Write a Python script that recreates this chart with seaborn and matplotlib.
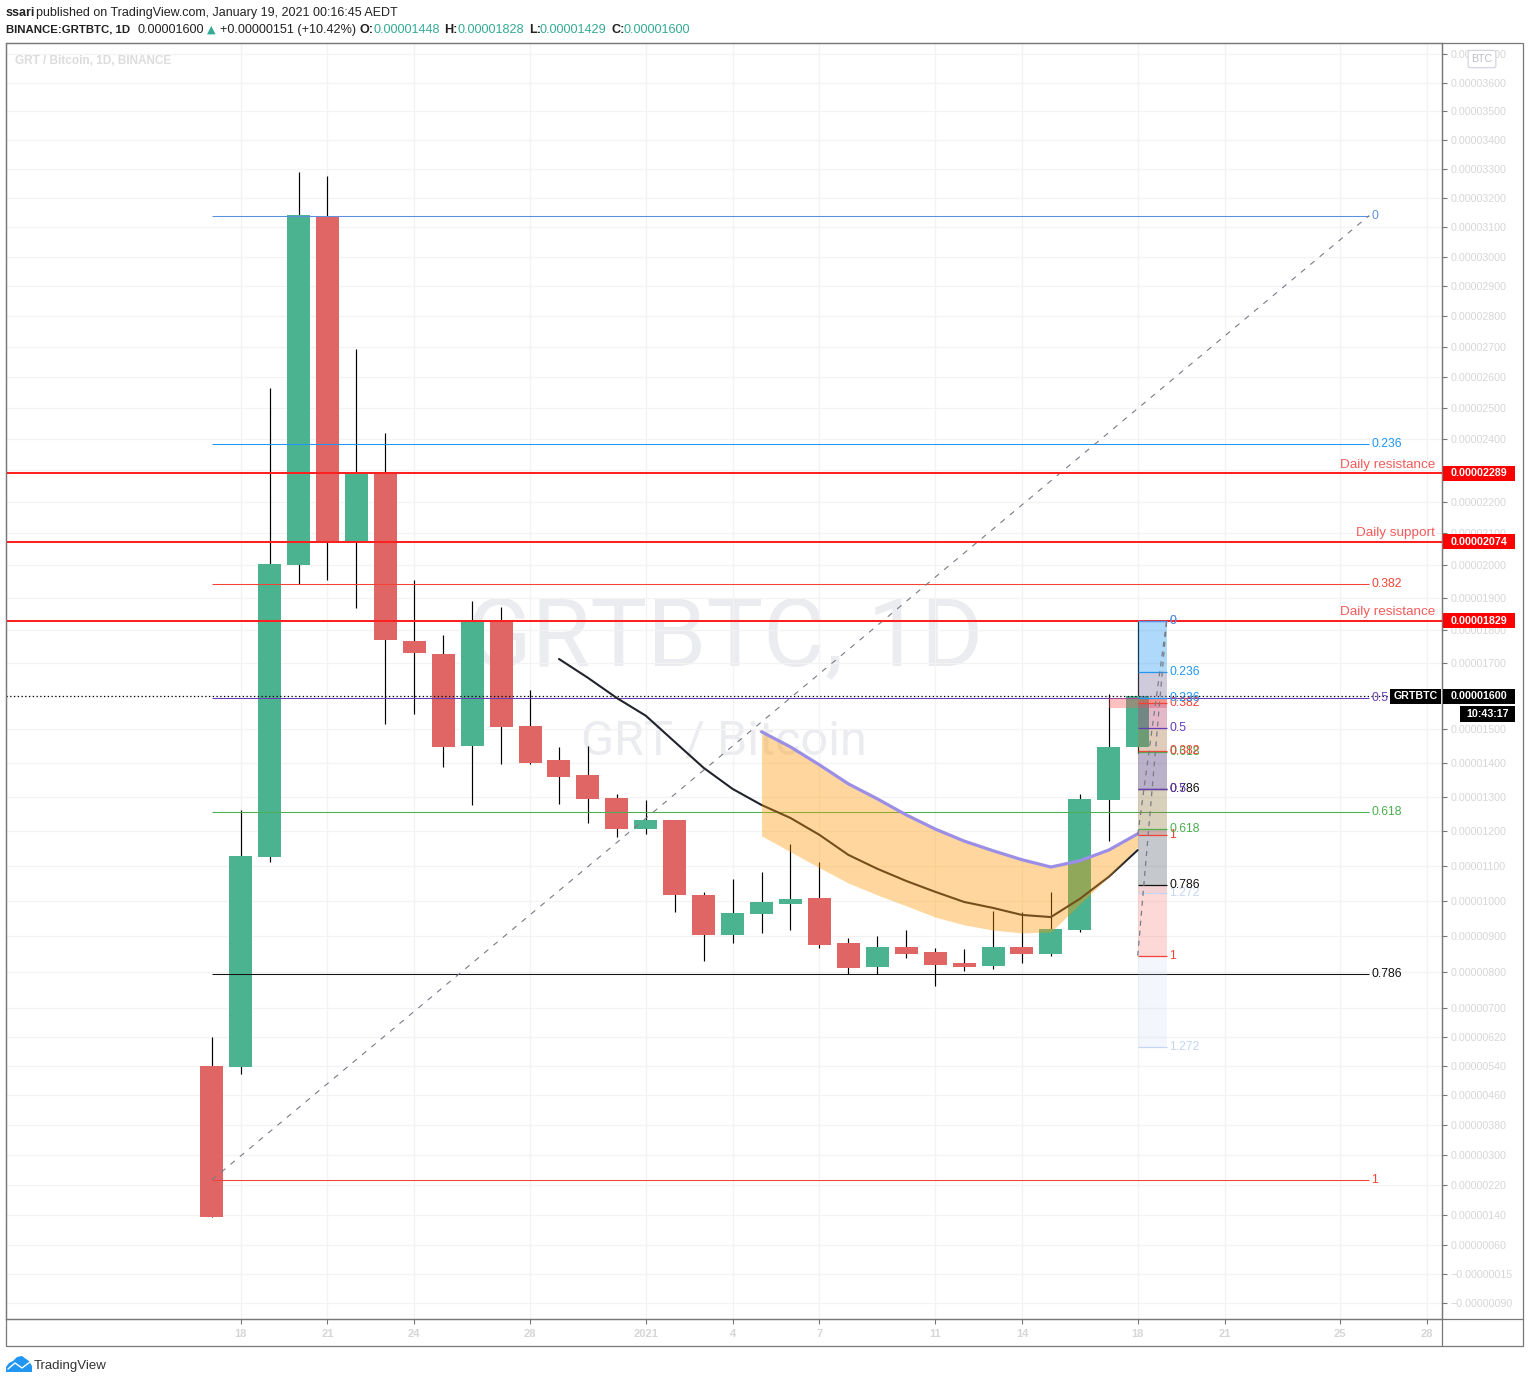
import matplotlib
matplotlib.use('Agg')
import matplotlib.pyplot as plt
from matplotlib.patches import Rectangle, Polygon, FancyBboxPatch
from matplotlib.lines import Line2D
import numpy as np
import pandas as pd
import seaborn as sns

# prices are in units of 1e-8 BTC, days counted from Dec 17
opens = [539, 537, 1126, 2001, 3134, 2074, 2289, 1767, 1727, 1451, 1829, 1511, 1410, 1365, 1298, 1207, 1233,
         1017, 903, 963, 991, 1009, 881, 812, 870, 856, 824, 815, 870, 851, 917, 1292, 1448]
highs = [619, 1263, 2565, 3289, 3275, 2693, 2419, 1955, 1785, 1890, 1871, 1619, 1448, 1451, 1309, 1292, 1233,
         1026, 1063, 1083, 1164, 1112, 895, 900, 917, 867, 864, 971, 969, 1026, 1309, 1607, 1828]
lows = [135, 518, 1112, 1942, 1955, 1868, 1517, 1546, 1389, 1277, 1398, 1396, 1280, 1225, 1184, 1193, 969,
        829, 881, 909, 917, 867, 793, 793, 837, 760, 801, 807, 824, 845, 912, 1172, 1429]
closes = [135, 1129, 2004, 3141, 2071, 2288, 1770, 1730, 1448, 1829, 1508, 1401, 1360, 1295, 1207, 1233, 1017,
          903, 966, 997, 1006, 875, 810, 870, 851, 818, 812, 870, 851, 920, 1295, 1448, 1600]

ma_days = list(range(12, 33))
ma_values = [1712, 1655, 1594, 1541, 1463, 1386, 1324, 1277, 1239, 1190, 1132, 1092, 1057, 1026, 997, 980, 960,
             954, 1006, 1069, 1146]
band_days = list(range(19, 33))
band_upper = [1493, 1448, 1395, 1339, 1295, 1248, 1207, 1172, 1144, 1118, 1097, 1115, 1146, 1193]
band_lower = [1187, 1141, 1095, 1051, 1017, 986, 954, 932, 917, 909, 912, 991, 1069, 1155]

fib_names = ['0', '0.236', '0.382', '0.5', '0.618', '0.786', '1', '1.272']
fib_colors = ['#5b8fe0', '#2196f3', '#f44336', '#673ab7', '#4caf50', '#111111', '#f44336', '#c4d5f5']
main_fib = [3139, 2384, 1942, 1594, 1257, 794, 232]
box_a = [1828, 1673, 1579, 1505, 1433, 1324, 1190, 1023]
box_b = [1828, 1594, 1436, 1324, 1207, 1046, 845, 591]

levels = [2289, 2074, 1829]
level_names = ['Daily resistance', 'Daily support', 'Daily resistance']
last_price = 1600

xtick_days = [1, 4, 7, 11, 15, 18, 21, 25, 28, 32, 35, 39, 42]
xtick_labels = ['18', '21', '24', '28', '2021', '4', '7', '11', '14', '18', '21', '25', '28']
ytick_values = [3700, 3600, 3500, 3400, 3300, 3200, 3100, 3000, 2900, 2800, 2700, 2600, 2500, 2400, 2300, 2200,
                2100, 2000, 1900, 1800, 1700, 1600, 1500, 1400, 1300, 1200, 1100, 1000, 900, 800, 700, 620, 540,
                460, 380, 300, 220, 140, 60, -15, -90]

W, H = 1529, 1383
GREEN = '#4cb391'
RED = '#e06666'
TEAL = '#35aa96'
LINE_RED = '#ff2020'
TICK_GREY = '#d6d6d6'
XMIN, XMAX = -7.11, 42.515

sns.set_style('white')
plt.rcParams['font.family'] = ['Liberation Sans', 'DejaVu Sans']

fig = plt.figure(figsize=(W / 100, H / 100), dpi=100, facecolor='white')
ax = fig.add_axes([6 / W, 1 - 1319 / H, 1436 / W, 1276 / H])
ax.set_yscale('function', functions=(lambda p: np.log(np.maximum(p + 10000, 1)), lambda v: np.exp(v) - 10000))
ax.set_xlim(XMIN, XMAX)
ax.set_ylim(-130, 3740)


def fx(x):
    return x / W


def fy(y):
    return 1 - y / H


def price_y(price):
    return ax.transData.transform((0, price))[1] / H


# watermark
ax.text(fx(725), fy(639), 'GRTBTC, 1D', transform=fig.transFigure, ha='center', va='center', fontsize=68.5,
        color='#ebecf0', family='Roboto', zorder=0)
ax.text(fx(724), fy(741), 'GRT / Bitcoin', transform=fig.transFigure, ha='center', va='center', fontsize=35,
        color='#ebecf0', family='Roboto', zorder=0)

ax.set_xticks(xtick_days, xtick_labels)
ax.set_yticks(ytick_values, [f'{v / 1e8:.8f}'.replace('-', '\u2212') for v in ytick_values])
ax.minorticks_off()
ax.grid(True, color='#f3f3f3', lw=0.9, zorder=0.5)
ax.set_axisbelow(True)
ax.yaxis.tick_right()
ax.tick_params(axis='y', length=3.5, width=0.8, color='#787878', labelcolor=TICK_GREY, labelsize=7.7, pad=2.8, right=True)
ax.tick_params(axis='x', length=3.5, width=0.8, color='#787878', labelcolor=TICK_GREY, labelsize=8, pad=4, bottom=True)
for lab in ax.get_xticklabels():
    lab.set_fontweight('bold')
for s in ax.spines.values():
    s.set_color('#787878')
    s.set_linewidth(0.9)

# candles
df = pd.DataFrame({'day': range(len(opens)), 'o': opens, 'h': highs, 'l': lows, 'c': closes})
df['color'] = np.where(df.c >= df.o, GREEN, RED)
ax.vlines(df.day, df.l, df.h, color='black', lw=0.85, zorder=2)
ax.bar(df.day, df.c - df.o, bottom=df.o, width=0.795, color=df.color, lw=0, zorder=2.2)

# long fib on the left
for name, col, price in zip(fib_names, fib_colors, main_fib):
    ax.hlines(price, 0, 40, color=col, lw=0.75, zorder=3)
    ax.text(40.07, price, name, color=col, fontsize=8.7, va='center', ha='left', zorder=6)
ax.plot([0, 40], [main_fib[-1], main_fib[0]], color='#787b86', lw=0.8, ls=(0, (5, 6)), zorder=3)

# support and resistance
for price, name in zip(levels, level_names):
    ax.axhline(price, color=LINE_RED, lw=1.45, zorder=3.5)
    ax.text(fx(1435), price_y(price) + 2.5 / H, name, transform=fig.transFigure, color='#f25b5b', fontsize=9.7,
            ha='right', va='bottom', zorder=6)
ax.axhline(last_price, color='black', lw=0.9, ls=(0, (1, 2)), zorder=3.4)

# moving average and the cup band
sns.lineplot(x=ma_days, y=ma_values, color='#20232c', lw=1.5, errorbar=None, ax=ax, zorder=3.6)
ax.fill_between(band_days, band_lower, band_upper, color='#ff9800', alpha=0.38, lw=0, zorder=4)
sns.lineplot(x=band_days, y=band_upper, color='#9b8ee6', lw=2.3, errorbar=None, ax=ax, zorder=4.5)

# pink rectangle behind the short fibs
ax.fill_between([31, 33], [1594, 1594], [1564, 1564], color='#ff5a5a', alpha=0.38, lw=0, zorder=4.1)

# short fibs next to the last candle
for levs in (box_a, box_b):
    for i in range(1, len(levs)):
        ax.fill_between([32, 33], levs[i], levs[i - 1], color=fib_colors[i], alpha=0.2, lw=0, zorder=4.2)
    for name, col, price in zip(fib_names, fib_colors, levs):
        ax.hlines(price, 32, 33, color=col, lw=0.9, zorder=4.6)
        ax.text(33.1, price, name, color=col, fontsize=8.7, va='center', ha='left', zorder=6)
    ax.plot([32, 33], [levs[6], levs[0]], color='#787b86', lw=0.9, ls=(0, (4, 4)), zorder=4.7)

ax.set_xlim(XMIN, XMAX)
ax.set_ylim(-130, 3740)
ax.set_xlabel('')
ax.set_ylabel('')

# outer frame of the screenshot
fig.add_artist(Rectangle((fx(6), fy(1346)), 1517 / W, 1303 / H, transform=fig.transFigure, fill=False,
                         ec='#787878', lw=0.9, zorder=1))
fig.add_artist(Line2D([fx(1442), fx(1442)], [fy(1346), fy(43)], color='#787878', lw=0.9))
fig.add_artist(Line2D([fx(6), fx(1523)], [fy(1319), fy(1319)], color='#787878', lw=0.9))


def tag(price, x0, x1, text, face='black'):
    y = price_y(price)
    fig.add_artist(Rectangle((fx(x0), y - 7.5 / H), (x1 - x0) / W, 15 / H, transform=fig.transFigure,
                             fc=face, ec='none', zorder=8))
    fig.text(fx((x0 + x1) / 2), y, text, color='white', fontsize=7.7, fontweight='bold', ha='center',
             va='center', zorder=9)


for price in levels:
    tag(price, 1443, 1515, f'{price / 1e8:.8f}', '#ff0000')
tag(last_price, 1390, 1441, 'GRTBTC')
tag(last_price, 1443, 1515, f'{last_price / 1e8:.8f}')
fig.add_artist(Rectangle((fx(1460), fy(722)), 55 / W, 16 / H, transform=fig.transFigure, fc='black', ec='none',
                         zorder=8))
fig.text(fx(1487.5), fy(714), '10:43:17', color='white', fontsize=7.7, fontweight='bold', ha='center', va='center',
         zorder=9)

# BTC badge
fig.add_artist(FancyBboxPatch((fx(1470), fy(66)), 24 / W, 14 / H, boxstyle='round,pad=0.0012',
                              transform=fig.transFigure, fc='white', ec='#d6d3e0', lw=0.9, zorder=8))
fig.text(fx(1482), fy(59.5), 'BTC', color='#bdbdc6', fontsize=7.7, ha='center', va='center', zorder=9)

# header lines
fig.text(fx(6), fy(13), 'ssari', color='#222222', fontsize=9.0, fontweight='bold', ha='left', va='center')
fig.text(fx(36), fy(13), 'published on TradingView.com, January 19, 2021 00:16:45 AEDT', color='#222222',
         fontsize=9.0, ha='left', va='center')
fig.text(fx(6), fy(30), 'BINANCE:GRTBTC, 1D', color='#222222', fontsize=8.2, fontweight='bold', ha='left', va='center')
fig.text(fx(137), fy(30), '0.00001600', color='#222222', fontsize=9.1, ha='left', va='center')
fig.text(fx(207), fy(30), '\u25b2', color=TEAL, fontsize=8, family='DejaVu Sans', ha='left', va='center')
fig.text(fx(220), fy(30), '+0.00000151 (+10.42%)', color='#222222', fontsize=9.1, ha='left', va='center')
for x_lab, x_val, lab, val in zip([360, 444, 529, 611], [373, 458, 540, 623], ['O:', 'H:', 'L:', 'C:'],
                                  [opens[-1], highs[-1], lows[-1], closes[-1]]):
    fig.text(fx(x_lab), fy(30), lab, color='#222222', fontsize=9.1, fontweight='bold', ha='left', va='center')
    fig.text(fx(x_val), fy(30), f'{val / 1e8:.8f}', color=TEAL, fontsize=9.1, ha='left', va='center')
fig.text(fx(15), fy(61), 'GRT / Bitcoin, 1D, BINANCE', color='#dcdcdc', fontsize=8.5, fontweight='bold', ha='left',
         va='center')

# TradingView logo
cloud = [(6, 1372), (6, 1367), (9, 1363), (13, 1361), (17, 1357), (22, 1356), (26, 1359), (29, 1361), (32, 1366),
         (32, 1372)]
fig.add_artist(Polygon([(fx(a), fy(b)) for a, b in cloud], closed=True, transform=fig.transFigure, fc='#2196f3',
                       ec='none'))
fig.add_artist(Line2D([fx(8), fx(15), fx(22), fx(30)], [fy(1369), fy(1363), fy(1368), fy(1362)], color='white', lw=1))
fig.text(fx(34), fy(1366), 'TradingView', color='#333333', fontsize=9.5, ha='left', va='center')

fig.savefig('out.png', dpi=100, facecolor='white')
